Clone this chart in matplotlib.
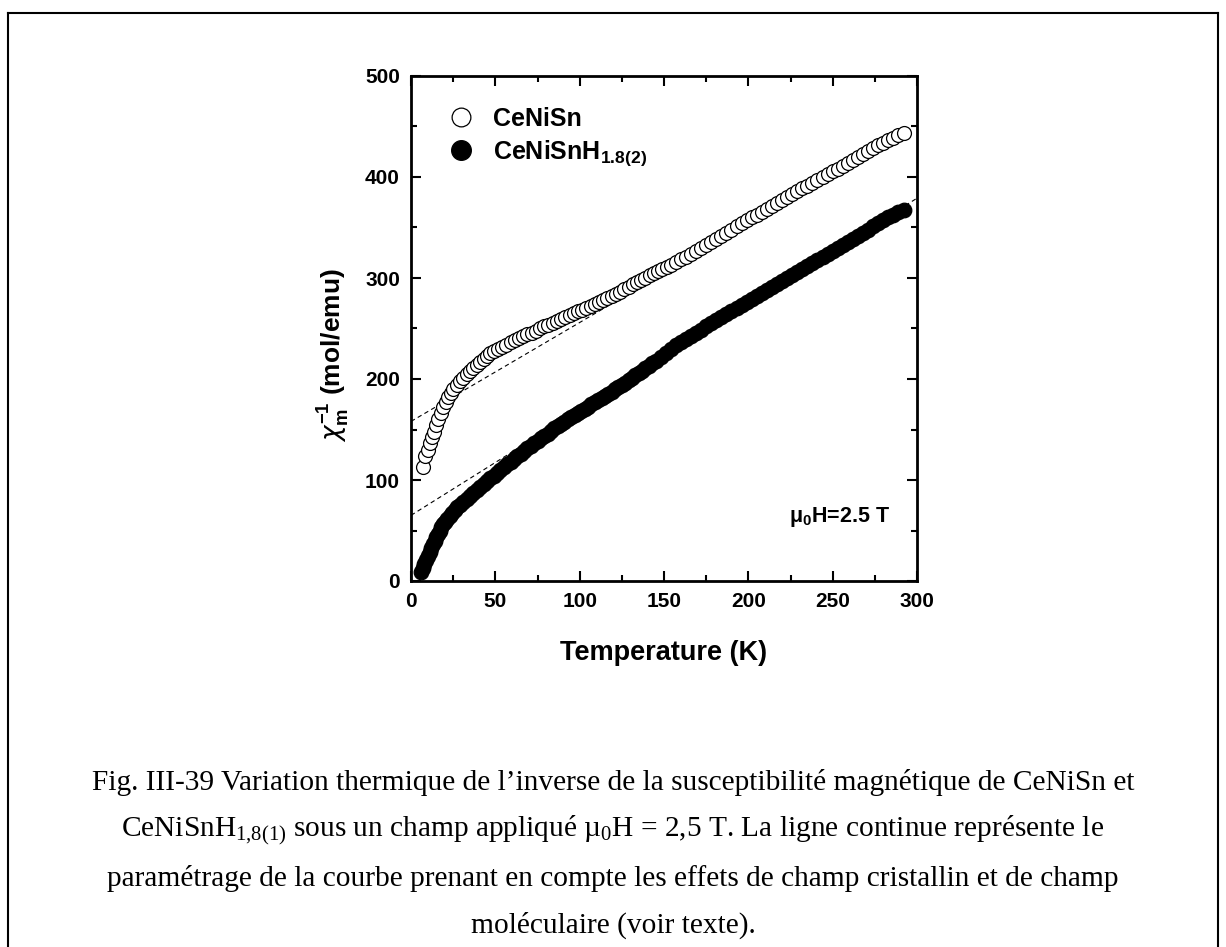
import matplotlib
matplotlib.use("Agg")
import matplotlib.pyplot as plt
from matplotlib.lines import Line2D

# ---------------- data ----------------
T_cenisn = [6.9, 8.3, 9.8, 11.3, 12.5, 13.7, 15.0, 16.2, 17.6, 19.0, 20.5, 22.0, 23.5, 25.0,
            27.0, 29.0, 31.0, 33.0, 35.0, 37.0, 39.0, 41.0, 43.0, 45.0, 47.0, 49.0, 51.5, 54.0,
            56.5, 59.0, 61.5, 64.0, 66.5, 69.0, 71.5, 74.0, 76.5, 79.0, 81.5, 84.0, 86.5, 89.0,
            91.5, 94.0, 96.5, 99.0, 101.5, 104, 106.5, 109, 111.5, 114, 116.5, 119, 121.5, 124,
            126.5, 129, 131.5, 134, 136.5, 139, 141.5, 144, 146.5, 149, 151.5, 154, 157, 160,
            163, 166, 169, 172, 175, 178, 181, 184, 187, 190, 193, 196, 199, 202, 205, 208,
            211, 214, 217, 220, 223, 226, 229, 232, 235, 238, 241, 244, 247, 250, 253, 256,
            259, 262, 265, 268, 271, 274, 277, 280, 283, 286, 289, 292]
chi_cenisn = [113, 124, 130, 137, 143, 148, 154, 160, 166, 172, 177, 182, 186, 190,
              194, 198, 201, 205, 208, 211, 214, 217, 220, 223, 226, 228, 230, 232,
              234, 237, 239, 241, 243, 245, 246, 248, 250, 252, 253, 255, 257, 259,
              261, 263, 265, 267, 268, 270, 272, 274, 276, 278, 280, 282, 284, 286,
              289, 291, 294, 296, 298, 300, 303, 305, 307, 309, 311, 313, 316, 319,
              321, 324, 327, 330, 333, 336, 339, 342, 345, 348, 351, 354, 357, 360, 362, 365,
              368, 371, 374, 377, 380, 383, 386, 389, 391, 394, 397, 400, 403, 406, 408, 411,
              414, 417, 420, 423, 426, 429, 432, 434, 437, 439, 442, 444]

T_hyd = [6, 7, 8, 9, 10, 11, 12, 13, 14, 15, 16, 17, 18, 19, 20, 21.5, 23, 24.5, 26, 27.5,
         29, 31, 33, 35, 37, 39, 41, 43, 45, 47, 49, 51, 53, 55, 57, 59, 61, 63, 65, 67,
         69, 71, 73, 75, 77, 79, 81, 83, 85, 87, 89, 91, 93, 95, 97, 99, 101, 103, 105, 107,
         109, 111, 113, 115, 117, 119, 121, 123, 125, 127, 129, 131, 133, 135, 137, 139, 141,
         143, 145, 148, 151, 154, 157, 160, 163, 166, 169, 172, 175, 178, 181, 184, 187, 190,
         193, 196, 199, 202, 205, 208, 211, 214, 217, 220, 223, 226, 229, 232, 235, 238, 241,
         244, 247, 250, 253, 256, 259, 262, 265, 268, 271, 274, 277, 280, 283, 286, 289, 292]
chi_hyd = [9, 13, 17, 21, 25, 29, 33, 37, 40, 44, 47, 50, 53, 56, 58, 61, 64, 67, 70, 73,
           75, 78, 81, 84, 87, 90, 93, 96, 99, 102, 104, 107, 110, 113, 116, 118, 121, 124, 126, 129,
           132, 134, 137, 139, 142, 144, 146, 149, 151, 153, 155, 157, 160, 162, 164, 166, 168, 170, 172, 175,
           177, 179, 181, 183, 185, 187, 190, 192, 194, 196, 199, 201, 204, 206, 208, 211, 213,
           216, 218, 222, 226, 230, 234, 237, 240, 243, 246, 249, 252, 255, 258, 261, 264, 267,
           270, 273, 276, 279, 282, 285, 288, 291, 294, 297, 300, 303, 306, 309, 312, 315, 318,
           321, 324, 327, 330, 333, 336, 339, 342, 345, 348, 351, 354, 357, 360, 362, 365, 367]

# dashed fit lines (end points)
fit_T_cenisn = [0, 290]
fit_chi_cenisn = [158, 442]
fit_T_hyd = [0, 300]
fit_chi_hyd = [65, 379]

label_cenisn = "CeNiSn"
label_hyd = r"CeNiSnH$\mathregular{_{1.8(2)}}$"
field_text = r"μ$\mathregular{_0}$H=2.5 T"
xlabel = "Temperature (K)"
ylabel = r"$\chi_\mathregular{m}^\mathregular{-1}$ (mol/emu)"
x_ticks = [0, 50, 100, 150, 200, 250, 300]
y_ticks = [0, 100, 200, 300, 400, 500]
caption_lines = [
    "Fig. III-39 Variation thermique de l’inverse de la susceptibilité magnétique de CeNiSn et",
    r"CeNiSnH$\mathregular{_{1{,}8(1)}}$ sous un champ appliqué µ$\mathregular{_0}$H = 2,5 T. La ligne continue représente le",
    "paramétrage de la courbe prenant en compte les effets de champ cristallin et de champ",
    "moléculaire (voir texte).",
]

# ---------------- figure ----------------
W, H = 1226, 947
fig = plt.figure(figsize=(W / 100, H / 100), dpi=100)
SANS = ["Liberation Sans", "DejaVu Sans"]
SERIF = ["Liberation Serif", "DejaVu Serif"]

ax = fig.add_axes([411 / W, 1 - 581 / H, 506 / W, 505 / H])

ax.plot(fit_T_cenisn, fit_chi_cenisn, ls=(0, (4, 3)), color="black", lw=0.8, zorder=1)
ax.plot(fit_T_hyd, fit_chi_hyd, ls=(0, (4, 3)), color="black", lw=0.8, zorder=1)

ax.plot(T_cenisn, chi_cenisn, ls="none", marker="o", ms=10, mfc="white", mec="black",
        mew=0.9, label=label_cenisn, zorder=3)
ax.plot(T_hyd, chi_hyd, ls="none", marker="o", ms=10.5, mfc="black", mec="black",
        mew=0.9, label=label_hyd, zorder=3)

ax.set_xlim(0, 300)
ax.set_ylim(0, 500)
ax.set_xticks(x_ticks)
ax.set_yticks(y_ticks)
ax.set_xticks([25, 75, 125, 175, 225, 275], minor=True)
ax.set_yticks([50, 150, 250, 350, 450], minor=True)
ax.tick_params(which="both", direction="in", top=True, right=True, width=1.5)
ax.tick_params(which="major", length=7)
ax.tick_params(which="minor", length=4.5)
ax.tick_params(axis="x", which="major", pad=8)
ax.tick_params(axis="y", which="major", pad=8)
for lab in ax.get_xticklabels() + ax.get_yticklabels():
    lab.set_fontfamily(SANS)
    lab.set_fontweight("bold")
    lab.set_fontsize(15)
for sp in ax.spines.values():
    sp.set_linewidth(2)

ax.set_xlabel(xlabel, fontfamily=SANS, fontweight="bold", fontsize=19.5, labelpad=21)
ax.set_ylabel(ylabel, fontfamily=SANS, fontweight="bold", fontsize=19)
ax.yaxis.set_label_coords(-0.118, 0.447)

ax.text(254, 63, field_text, fontfamily=SANS, fontweight="bold", fontsize=15.5,
        ha="center", va="center")

leg = ax.legend(loc="upper left", bbox_to_anchor=(0.05, 0.958), frameon=False,
                prop={"family": SANS, "weight": "bold", "size": 18},
                markerscale=1.35, handlelength=1.2, handletextpad=0.65,
                labelspacing=0.3, borderaxespad=0)

# caption
cap_y = [782, 830, 878, 925]
for line, yy in zip(caption_lines, cap_y):
    fig.text(613 / W, 1 - yy / H, line, fontfamily=SERIF, fontsize=21.2,
             ha="center", va="center")

# page frame
frame_kw = dict(color="black", lw=1.5, transform=fig.transFigure)
fig.add_artist(Line2D([8 / W, 8 / W], [0, 1 - 13 / H], **frame_kw))
fig.add_artist(Line2D([8 / W, 1218 / W], [1 - 13 / H, 1 - 13 / H], **frame_kw))
fig.add_artist(Line2D([1218 / W, 1218 / W], [0, 1 - 13 / H], **frame_kw))

fig.savefig("out.png", dpi=100, facecolor="white")
